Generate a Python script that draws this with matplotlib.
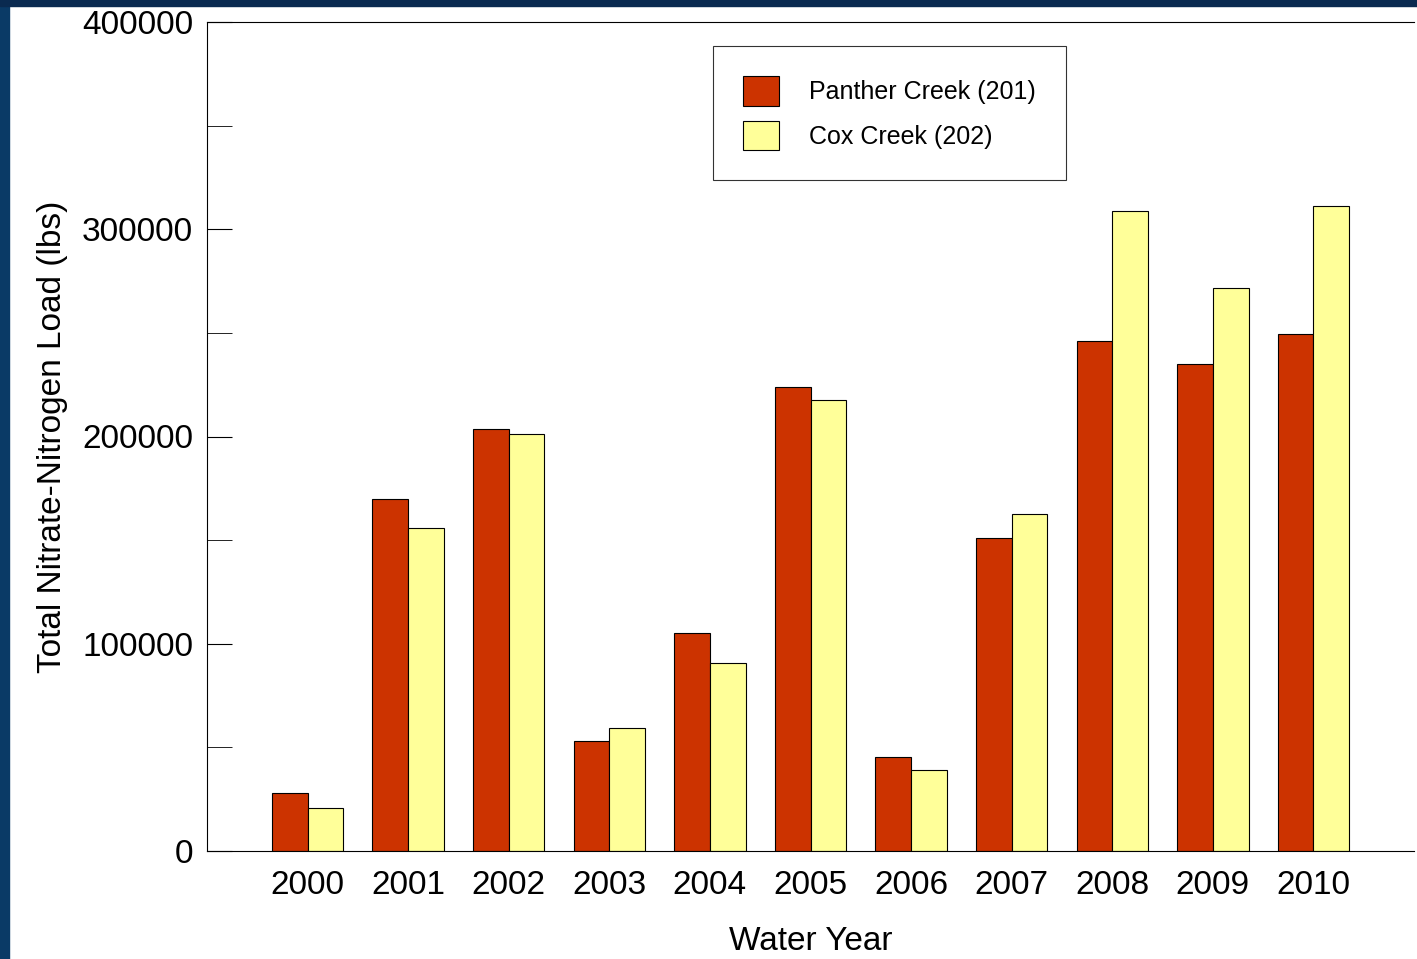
import matplotlib
matplotlib.use("Agg")
import matplotlib.pyplot as plt
import numpy as np
from matplotlib.patches import Rectangle

plt.rcParams['font.family'] = ['Liberation Sans', 'DejaVu Sans']

years = [2000,2001,2002,2003,2004,2005,2006,2007,2008,2009,2010]
panther = [28000,170000,203600,53000,105000,224000,45400,151000,246000,235000,249500]
cox = [20700,156000,201000,59300,90700,217600,39000,162600,308800,271600,311000]

fig = plt.figure(figsize=(14.17,9.59), dpi=100)
fig.patches.append(Rectangle((0,0),0.006,1,transform=fig.transFigure,color='#0a3a66',zorder=-1))
fig.patches.append(Rectangle((0,0.994),1,0.006,transform=fig.transFigure,color='#0a2a50',zorder=-1))
ax = fig.add_axes([207/1417, 1-851/959, (1414-207)/1417, (851-22)/959])
x = np.array(years)
w = 0.355
ax.bar(x-w/2, panther, w, color='#cc3300', edgecolor='black', linewidth=0.8, label='Panther Creek (201)')
ax.bar(x+w/2, cox, w, color='#ffff99', edgecolor='black', linewidth=0.8, label='Cox Creek (202)')
ax.set_xlim(1999, 2011)
ax.set_ylim(0, 400000)
ax.set_yticks(range(0,400001,100000))
ax.set_yticks(range(50000,400000,100000), minor=True)
ax.tick_params(axis='y', which='both', direction='in', length=18, labelsize=24, pad=10)
ax.set_xticks(years)
ax.tick_params(axis='x', length=0, labelsize=24, pad=14)
ax.set_xlabel('Water Year', fontsize=24, labelpad=18)
ax.set_ylabel('Total Nitrate-Nitrogen Load (lbs)', fontsize=24, labelpad=10)
ax.spines['right'].set_visible(False)
leg = ax.legend(loc='upper left', bbox_to_anchor=((713-207)/1207, 1-(46-22)/829), fontsize=18,
                fancybox=False, edgecolor='black', borderpad=1.2, labelspacing=0.6,
                handlelength=1.45, handleheight=1.45, handletextpad=1.2, borderaxespad=0)
leg.get_frame().set_linewidth(0.8)
fig.savefig('out.png', dpi=100)
